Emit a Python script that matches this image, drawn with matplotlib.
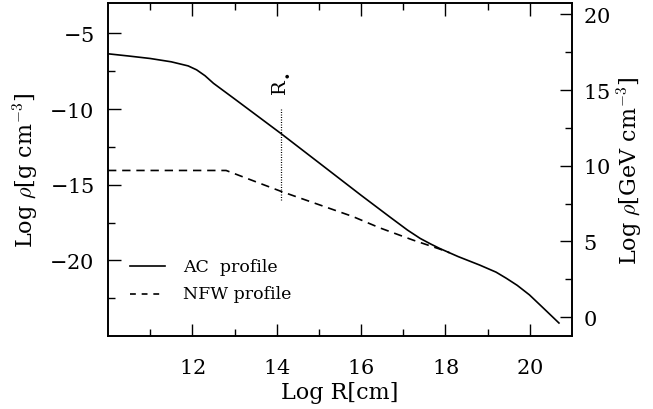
import matplotlib
matplotlib.use("Agg")
import matplotlib.pyplot as plt
import numpy as np

plt.rcParams['font.family'] = 'serif'
plt.rcParams['font.serif'] = ['DejaVu Serif']
plt.rcParams['mathtext.fontset'] = 'cm'
plt.rcParams['axes.formatter.use_mathtext'] = True

# AC (adiabatically contracted) profile: Log R [cm] vs Log rho [g cm^-3]
ac_logr = [10.0, 10.5, 11.0, 11.5, 11.9, 12.1, 12.3, 12.5, 13.0, 13.5, 14.11,
           15.0, 16.0, 16.68, 17.1, 17.4, 17.65, 17.86, 18.3, 18.81, 19.2, 19.44, 19.7, 19.99, 20.3, 20.69]
ac_logrho = [-6.35, -6.5, -6.66, -6.88, -7.15, -7.41, -7.8, -8.3, -9.33, -10.37, -11.64,
             -13.55, -15.7, -17.13, -18.0, -18.55, -18.92, -19.21, -19.75, -20.31, -20.78, -21.18, -21.65, -22.28, -23.1, -24.14]

# NFW profile
nfw_logr = [10.0, 12.8, 14.11, 15.8, 16.44, 17.23, 17.86, 18.1]
nfw_logrho = [-14.06, -14.06, -15.45, -17.1, -17.85, -18.66, -19.25, -19.5]

# R* marker
rstar_logr = 14.11
rstar_span = [-16.0, -10.0]

gev_offset = 23.75  # log10(1 GeV/c^2 in g) ~ -23.75

xlim = (10, 21)
ylim = (-25, -3)

fig = plt.figure(figsize=(6.53, 4.10), dpi=100)
ax = fig.add_axes([0.1654, 0.178, 0.7106, 0.812])

ax.plot(ac_logr, ac_logrho, color='black', lw=1.2, solid_joinstyle='round')
ax.plot(nfw_logr, nfw_logrho, color='black', lw=1.2, linestyle=(0, (5, 3.5)))
ax.plot([rstar_logr, rstar_logr], rstar_span, color='black', lw=0.9, linestyle=(0, (0.8, 1.2)))
ax.text(rstar_logr, -9.1, r'R$_{_\bullet}$', rotation=90, ha='center', va='bottom', fontsize=14)

# legend
ax.plot([10.51, 11.34], [-20.4, -20.4], color='black', lw=1.2)
ax.plot([10.51, 11.34], [-22.2, -22.2], color='black', lw=1.2, linestyle=(0, (3.5, 3.5)))
ax.text(11.77, -20.4, 'AC  profile', va='center', ha='left', fontsize=12.5)
ax.text(11.77, -22.2, 'NFW profile', va='center', ha='left', fontsize=12.5)

ax.set_xlim(*xlim)
ax.set_ylim(*ylim)
ax.set_xticks([12, 14, 16, 18, 20])
ax.set_xticks(np.arange(11, 21, 1), minor=True)
ax.set_yticks([-5, -10, -15, -20])
ax.set_yticks([-7.5, -12.5, -17.5, -22.5], minor=True)
ax.tick_params(which='both', direction='in', top=True, right=False, labelsize=15)
ax.tick_params(which='major', length=9, width=1)
ax.tick_params(which='minor', length=5, width=1)
ax.tick_params(axis='x', which='major', pad=16)
ax.tick_params(axis='y', which='major', pad=10)
ax.set_xlabel(r'Log R[cm]', fontsize=16, labelpad=3)
ax.set_ylabel(r'Log $\rho$[g cm$^{-3}$]', fontsize=16, labelpad=6)
for s in ax.spines.values():
    s.set_linewidth(1.2)

ax2 = ax.twinx()
ax2.set_ylim(ylim[0] + gev_offset, ylim[1] + gev_offset)
ax2.set_yticks([0, 5, 10, 15, 20])
ax2.set_yticks([2.5, 7.5, 12.5, 17.5], minor=True)
ax2.tick_params(which='both', direction='in', labelsize=15)
ax2.tick_params(which='major', length=9, width=1, pad=8)
ax2.tick_params(which='minor', length=5, width=1)
ax2.set_ylabel(r'Log $\rho$[GeV cm$^{-3}$]', fontsize=16, labelpad=4)
for s in ax2.spines.values():
    s.set_linewidth(1.2)

fig.savefig('out.png', dpi=100)
